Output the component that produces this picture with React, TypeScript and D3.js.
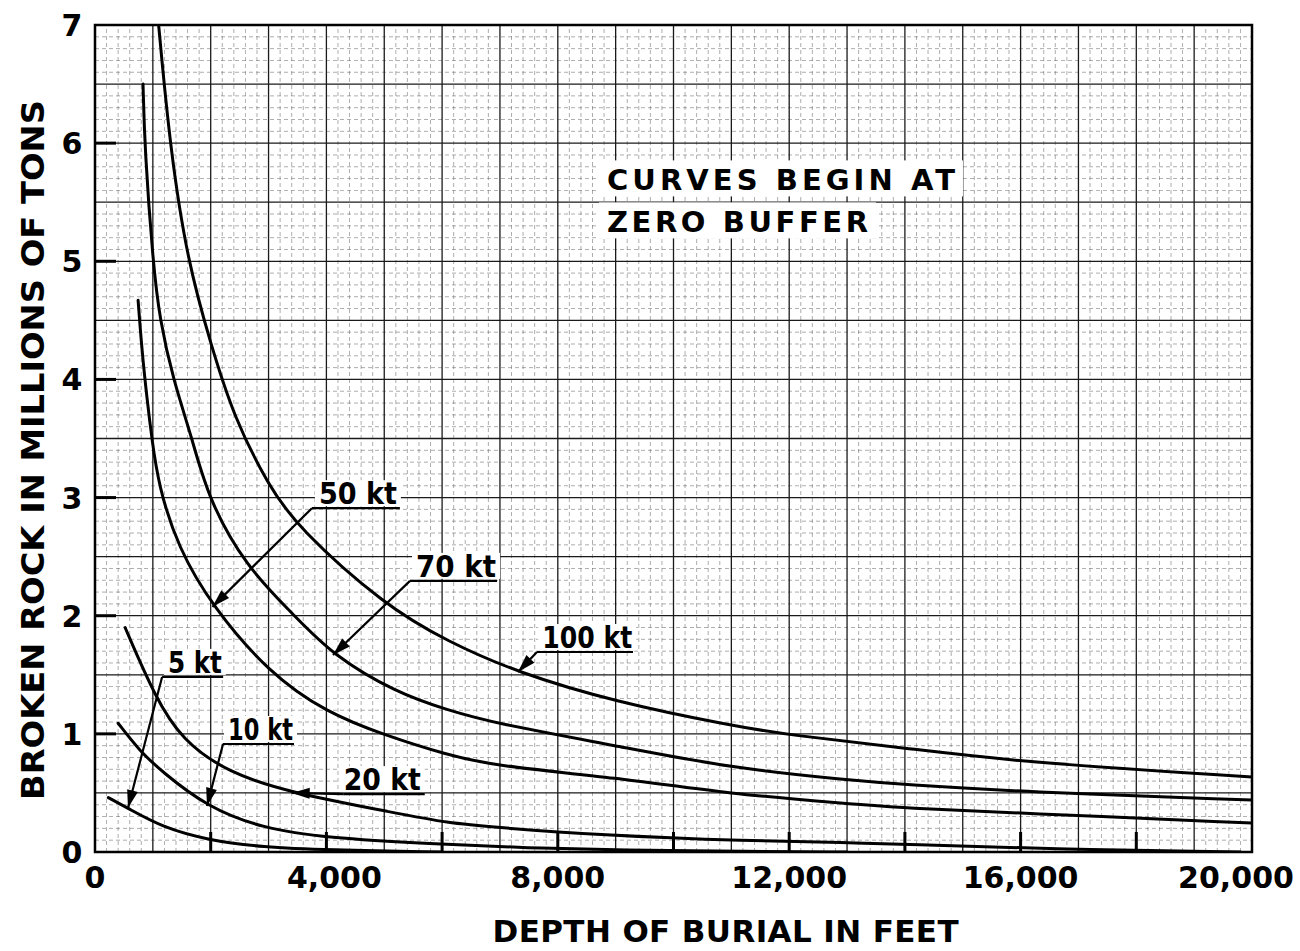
import { useEffect, useRef } from "react";
import * as d3 from "d3";

// axis ticks
const xTicks = [0, 4000, 8000, 12000, 16000, 20000];
const yTicks = [0, 1, 2, 3, 4, 5, 6, 7];

// curves: depth (ft) vs broken rock (millions of tons)
const depth100 = [1100, 1300, 1600, 2000, 2400, 3000, 3500, 5000, 6100, 7300, 9000, 11000, 12000, 14000, 16000, 20000];
const rock100 = [7.0, 5.95, 5.0, 4.3, 3.68, 3.1, 2.75, 2.09, 1.78, 1.52, 1.27, 1.07, 0.99, 0.88, 0.76, 0.635];

const depth70 = [830, 860, 1000, 1120, 1350, 1680, 1950, 2600, 3450, 4100, 5200, 6100, 6900, 9000, 11000, 13000, 14000, 16000, 20000];
const rock70 = [6.5, 5.95, 5.0, 4.5, 4.0, 3.5, 3.0, 2.42, 2.0, 1.67, 1.35, 1.2, 1.09, 0.9, 0.71, 0.61, 0.57, 0.51, 0.44];

const depth50 = [745, 810, 900, 985, 1100, 1430, 2040, 3000, 4000, 5000, 6100, 6900, 9000, 11000, 13000, 14000, 16000, 20000];
const rock50 = [4.67, 4.25, 3.83, 3.49, 3.1, 2.58, 2.07, 1.52, 1.18, 0.99, 0.82, 0.73, 0.63, 0.49, 0.41, 0.37, 0.33, 0.245];

const depth20 = [520, 1040, 1500, 2300, 3400, 5200, 6100, 6900, 8700, 11300, 13000, 14000, 16500, 19800];
const rock20 = [1.9, 1.31, 0.95, 0.67, 0.5, 0.33, 0.245, 0.21, 0.144, 0.093, 0.08, 0.065, 0.025, 0.0];

const depth10 = [400, 780, 1160, 1940, 2900, 4000, 5800, 7500, 9100, 11300, 13000];
const rock10 = [1.09, 0.85, 0.68, 0.38, 0.2, 0.12, 0.068, 0.034, 0.017, 0.005, 0.0];

const depth5 = [230, 570, 1160, 1950, 2900, 4000, 6000];
const rock5 = [0.46, 0.37, 0.21, 0.1, 0.04, 0.017, 0.0];

const curveDepths = [depth100, depth70, depth50, depth20, depth10, depth5];
const curveRocks = [rock100, rock70, rock50, rock20, rock10, rock5];

// callout labels (data units)
const labelText = ["50 kt", "70 kt", "100 kt", "5 kt", "10 kt", "20 kt"];
const labelWidth = [78, 80, 90, 54, 65, 77];
const labelStart = [3750, 5445, 7640, 1160, 2213, 4300];
const labelEnd = [5270, 6950, 9300, 2215, 3440, 5700];
const labelLevel = [2.91, 2.295, 1.693, 1.482, 0.914, 0.49];
const labelTextStart = [3870, 5550, 7730, 1260, 2300, 4300];
const tipDepth = [2030, 4114, 7312, 570, 1936, 3400];
const tipRock = [2.075, 1.668, 1.524, 0.373, 0.39, 0.5];

const noteLines = ["CURVES BEGIN AT", "ZERO BUFFER"];
const noteWidths = [348, 261];

export default function App() {
  const ref = useRef<SVGSVGElement>(null);

  useEffect(() => {
    if (!ref.current) return;
    const svg = d3.select(ref.current);
    svg.selectAll("*").remove();

    const width = 1300;
    const height = 951;
    const margin = { top: 25, right: 48, bottom: 99, left: 95 };
    const font = "'DejaVu Sans', sans-serif";

    const x = d3.scaleLinear().domain([0, 20000]).range([margin.left, width - margin.right]);
    const y = d3.scaleLinear().domain([0, 7]).range([height - margin.bottom, margin.top]);

    svg.append("rect").attr("width", width).attr("height", height).attr("fill", "#fff");

    // minor grid (graph paper)
    const minorX = d3.range(0, 101).map(i => i * 200).filter(v => v % 1000 !== 0);
    const minorY = d3.range(0, 71).filter(i => i % 5 !== 0).map(i => i / 10);
    const g = svg.append("g");
    g.selectAll(".mx").data(minorX).join("line")
      .attr("x1", d => x(d)).attr("x2", d => x(d))
      .attr("y1", y(0)).attr("y2", y(7))
      .attr("stroke", "#555").attr("stroke-width", 0.8)
      .attr("stroke-dasharray", "4 3").attr("opacity", 0.6);
    g.selectAll(".my").data(minorY).join("line")
      .attr("y1", d => y(d)).attr("y2", d => y(d))
      .attr("x1", x(0)).attr("x2", x(20000))
      .attr("stroke", "#555").attr("stroke-width", 0.8)
      .attr("stroke-dasharray", "4 3").attr("opacity", 0.6);

    // major grid
    const majorX = d3.range(1, 20).map(i => i * 1000);
    const majorY = d3.range(1, 14).map(i => i * 0.5);
    g.selectAll(".Mx").data(majorX).join("line")
      .attr("x1", d => x(d)).attr("x2", d => x(d))
      .attr("y1", y(0)).attr("y2", y(7))
      .attr("stroke", "#1a1a1a").attr("stroke-width", 1.3);
    g.selectAll(".My").data(majorY).join("line")
      .attr("y1", d => y(d)).attr("y2", d => y(d))
      .attr("x1", x(0)).attr("x2", x(20000))
      .attr("stroke", "#1a1a1a").attr("stroke-width", 1.3);

    // heavy ticks inside the frame
    g.selectAll(".ty").data(yTicks.slice(1, -1)).join("line")
      .attr("x1", x(0)).attr("x2", x(0) + 21)
      .attr("y1", d => y(d)).attr("y2", d => y(d))
      .attr("stroke", "#000").attr("stroke-width", 3);
    g.selectAll(".tx").data(d3.range(1, 10).map(i => i * 2000)).join("line")
      .attr("x1", d => x(d)).attr("x2", d => x(d))
      .attr("y1", y(0)).attr("y2", y(0) - 20)
      .attr("stroke", "#000").attr("stroke-width", 3);

    // frame
    svg.append("rect")
      .attr("x", x(0)).attr("y", y(7))
      .attr("width", x(20000) - x(0)).attr("height", y(0) - y(7))
      .attr("fill", "none").attr("stroke", "#000").attr("stroke-width", 2.5);

    // curves
    svg.append("clipPath").attr("id", "plot")
      .append("rect")
      .attr("x", x(0)).attr("y", y(7))
      .attr("width", x(20000) - x(0)).attr("height", y(0) - y(7));

    const line = d3.line<[number, number]>()
      .x(d => x(d[0]))
      .y(d => y(d[1]))
      .curve(d3.curveBasis);

    curveDepths.forEach((ds, k) => {
      const pts = ds.map((d, i) => [d, curveRocks[k][i]] as [number, number]);
      svg.append("path")
        .attr("clip-path", "url(#plot)")
        .attr("d", line(pts))
        .attr("fill", "none")
        .attr("stroke", "#000")
        .attr("stroke-width", 3)
        .attr("stroke-linecap", "round");
    });

    // callouts
    labelText.forEach((t, i) => {
      const ly = y(labelLevel[i]);
      const x0 = x(labelStart[i]);
      const tx = x(tipDepth[i]);
      const ty = y(tipRock[i]);
      const box = svg.append("g");
      box.append("rect")
        .attr("x", x(labelTextStart[i]) - 4).attr("y", ly - 28)
        .attr("width", labelWidth[i] + 8).attr("height", 26)
        .attr("fill", "#fff");
      box.append("text")
        .attr("x", x(labelTextStart[i])).attr("y", ly - 4)
        .attr("font-family", font).attr("font-weight", "bold")
        .attr("font-size", 30).attr("fill", "#000")
        .attr("textLength", labelWidth[i]).attr("lengthAdjust", "spacingAndGlyphs")
        .text(t);
      box.append("line")
        .attr("x1", x0).attr("x2", x(labelEnd[i]))
        .attr("y1", ly).attr("y2", ly)
        .attr("stroke", "#000").attr("stroke-width", 2.2);
      box.append("line")
        .attr("x1", x0).attr("y1", ly).attr("x2", tx).attr("y2", ty)
        .attr("stroke", "#000").attr("stroke-width", 2.2);
      const ang = Math.atan2(ty - ly, tx - x0);
      const len = 18, half = 5.5;
      const bx = tx - len * Math.cos(ang), by = ty - len * Math.sin(ang);
      const px = -Math.sin(ang) * half, py = Math.cos(ang) * half;
      box.append("path")
        .attr("d", `M${tx},${ty}L${bx + px},${by + py}L${bx - px},${by - py}Z`)
        .attr("fill", "#000");
    });

    // note
    noteLines.forEach((t, i) => {
      const base = y(5.6) + i * 42;
      svg.append("rect")
        .attr("x", x(8850) - 8).attr("y", base - 30)
        .attr("width", noteWidths[i] + 16).attr("height", 36)
        .attr("fill", "#fff");
      svg.append("text")
        .attr("x", x(8850)).attr("y", base)
        .attr("font-family", font).attr("font-weight", "bold")
        .attr("font-size", 29).attr("fill", "#000")
        .attr("textLength", noteWidths[i])
        .attr("lengthAdjust", "spacing")
        .text(t);
    });

    // tick labels
    svg.selectAll(".xl").data(xTicks).join("text")
      .attr("x", d => x(d)).attr("y", y(0) + 36)
      .attr("dx", d => (d === 20000 ? -16 : d === 4000 ? 8 : 0))
      .attr("text-anchor", "middle")
      .attr("font-family", font).attr("font-weight", "bold").attr("font-size", 30)
      .text(d => d3.format(",")(d));
    svg.selectAll(".yl").data(yTicks).join("text")
      .attr("x", 72).attr("y", d => y(d) + 11)
      .attr("text-anchor", "middle")
      .attr("font-family", font).attr("font-weight", "bold").attr("font-size", 30)
      .text(d => String(d));

    // axis titles
    svg.append("text")
      .attr("x", x(10900)).attr("y", 942)
      .attr("text-anchor", "middle")
      .attr("font-family", font).attr("font-weight", "bold").attr("font-size", 31)
      .attr("textLength", 466).attr("lengthAdjust", "spacing")
      .text("DEPTH OF BURIAL IN FEET");
    svg.append("text")
      .attr("transform", `translate(44,450) rotate(-90)`)
      .attr("text-anchor", "middle")
      .attr("font-family", font).attr("font-weight", "bold").attr("font-size", 32)
      .attr("textLength", 700).attr("lengthAdjust", "spacingAndGlyphs")
      .text("BROKEN ROCK IN MILLIONS OF TONS");
  }, []);

  return (
    <div style={{ position: "absolute", left: 0, top: 0 }}>
      <svg ref={ref} width={1300} height={951} style={{ display: "block" }} />
    </div>
  );
}
